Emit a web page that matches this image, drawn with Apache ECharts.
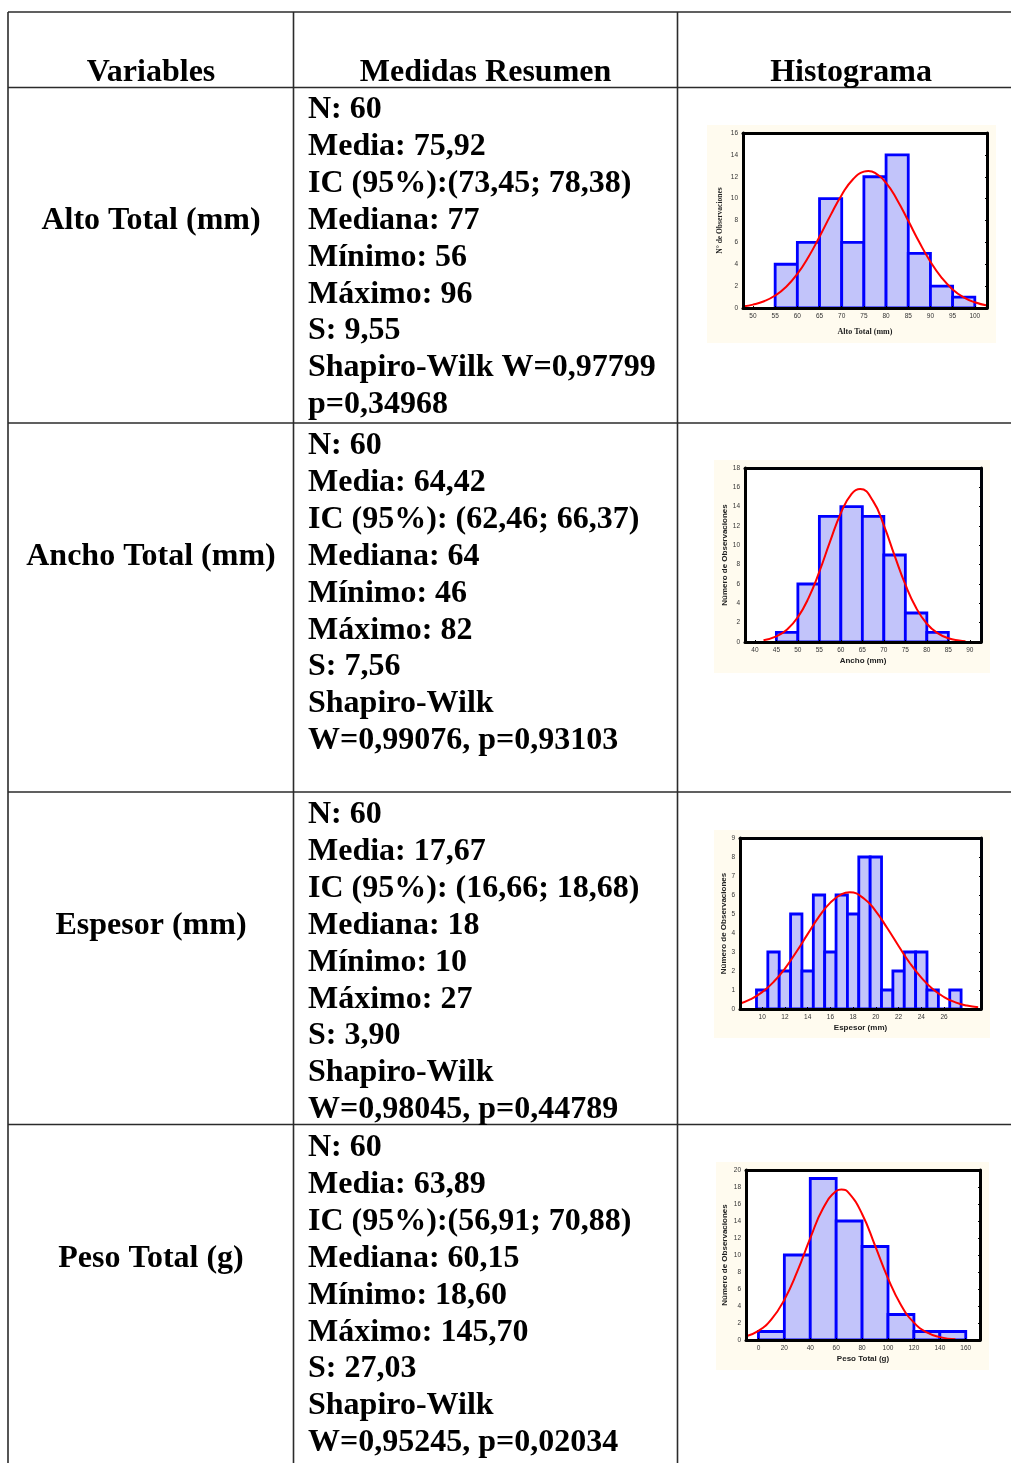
<!DOCTYPE html>
<html>
<head>
<meta charset="utf-8">
<script src="https://cdn.jsdelivr.net/npm/echarts@6/dist/echarts.min.js"></script>
<style>
  html, body { margin: 0; padding: 0; background: #fff; }
  #main { width: 1011px; height: 1463px; }
</style>
</head>
<body>
<div id="main"></div>
<script>
// textos de la tabla
var headers = ['Variables', 'Medidas Resumen', 'Histograma'];
var variables = ['Alto Total (mm)', 'Ancho Total (mm)', 'Espesor (mm)', 'Peso Total (g)'];
var resumenAlto = ['N: 60', 'Media: 75,92', 'IC (95%):(73,45; 78,38)', 'Mediana: 77', 'Mínimo: 56', 'Máximo: 96', 'S: 9,55', 'Shapiro-Wilk W=0,97799', 'p=0,34968'];
var resumenAncho = ['N: 60', 'Media: 64,42', 'IC (95%): (62,46; 66,37)', 'Mediana: 64', 'Mínimo: 46', 'Máximo: 82', 'S: 7,56', 'Shapiro-Wilk', 'W=0,99076, p=0,93103'];
var resumenEspesor = ['N: 60', 'Media: 17,67', 'IC (95%): (16,66; 18,68)', 'Mediana: 18', 'Mínimo: 10', 'Máximo: 27', 'S: 3,90', 'Shapiro-Wilk', 'W=0,98045, p=0,44789'];
var resumenPeso = ['N: 60', 'Media: 63,89', 'IC (95%):(56,91; 70,88)', 'Mediana: 60,15', 'Mínimo: 18,60', 'Máximo: 145,70', 'S: 27,03', 'Shapiro-Wilk', 'W=0,95245, p=0,02034'];

// histogramas: inicio de cada clase y frecuencias
var altoStart = [55, 60, 65, 70, 75, 80, 85, 90, 95];
var altoCount = [4, 6, 10, 6, 12, 14, 5, 2, 1];
var altoTicks = [50, 55, 60, 65, 70, 75, 80, 85, 90, 95, 100];
var altoCurveX = [48, 50, 52.5, 55, 57.5, 60, 62.5, 65, 67.5, 70, 72.5, 75, 76, 77.5, 80, 82.5, 85, 87.5, 90, 92.5, 95, 97.5, 100, 102.75];
var altoCurveY = [0.17, 0.31, 0.62, 1.14, 1.95, 3.12, 4.67, 6.52, 8.49, 10.34, 11.75, 12.47, 12.53, 12.36, 11.44, 9.88, 7.97, 6.01, 4.23, 2.78, 1.70, 0.97, 0.52, 0.22];

var anchoStart = [45, 50, 55, 60, 65, 70, 75, 80];
var anchoCount = [1, 6, 13, 14, 13, 9, 3, 1];
var anchoTicks = [40, 45, 50, 55, 60, 65, 70, 75, 80, 85, 90];
var anchoCurveX = [42, 45, 47.5, 50, 52.5, 55, 57.5, 60, 62.5, 64.5, 67.5, 70, 72.5, 75, 77.5, 80, 82.5, 85, 87.5, 89];
var anchoCurveY = [0.19, 0.58, 1.29, 2.57, 4.57, 7.28, 10.41, 13.34, 15.33, 15.83, 14.57, 12.06, 8.94, 5.95, 3.54, 1.89, 0.91, 0.39, 0.15, 0.08];

var espesorStart = [9.5, 10.5, 11.5, 12.5, 13.5, 14.5, 15.5, 16.5, 17.5, 18.5, 19.5, 20.5, 21.5, 22.5, 23.5, 24.5, 25.5, 26.5];
var espesorCount = [1, 3, 2, 5, 2, 6, 3, 6, 5, 8, 8, 1, 2, 3, 3, 1, 0, 1];
var espesorTicks = [10, 12, 14, 16, 18, 20, 22, 24, 26];
var espesorCurveX = [8, 9, 10, 11, 12, 13, 14, 15, 16, 17, 17.7, 19, 20, 21, 22, 23, 24, 25, 26, 27, 28, 29];
var espesorCurveY = [0.28, 0.52, 0.89, 1.42, 2.13, 3.00, 3.94, 4.86, 5.60, 6.05, 6.14, 5.79, 5.14, 4.26, 3.32, 2.41, 1.65, 1.05, 0.63, 0.35, 0.18, 0.09];

var pesoStart = [0, 20, 40, 60, 80, 100, 120, 140];
var pesoCount = [1, 10, 19, 14, 11, 3, 1, 1];
var pesoTicks = [0, 20, 40, 60, 80, 100, 120, 140, 160];
var pesoCurveX = [-10, 0, 10, 20, 30, 40, 50, 60, 64, 70, 80, 90, 100, 110, 120, 130, 140, 152];
var pesoCurveY = [0.42, 1.08, 2.43, 4.74, 8.07, 11.98, 15.52, 17.53, 17.71, 17.26, 14.83, 11.11, 7.26, 4.13, 2.05, 0.89, 0.34, 0.08];

var myChart = echarts.init(document.getElementById('main'), null, { renderer: 'canvas' });

var serif = '"Liberation Serif", "Times New Roman", serif';
var sans = '"Liberation Sans", Arial, sans-serif';
var cream = '#FFFBEF';

var panels = [
  { start: altoStart, count: altoCount, width: 5, ticks: altoTicks, cx: altoCurveX, cy: altoCurveY,
    xMin: 47.75, xMax: 102.75, yMax: 16, yStep: 2, xName: 'Alto Total (mm)', yName: 'N° de Observaciones',
    nameFont: serif, nameSize: 8, grid: [743, 133, 244, 175], bg: [707, 125, 289, 218], gaps: [20, 19] },
  { start: anchoStart, count: anchoCount, width: 5, ticks: anchoTicks, cx: anchoCurveX, cy: anchoCurveY,
    xMin: 37.7, xMax: 92.6, yMax: 18, yStep: 2, xName: 'Ancho (mm)', yName: 'Número de Observaciones',
    nameFont: sans, nameSize: 8, grid: [745, 468, 236, 174], bg: [714, 460, 276, 213], gaps: [15, 16] },
  { start: espesorStart, count: espesorCount, width: 1, ticks: espesorTicks, cx: espesorCurveX, cy: espesorCurveY,
    xMin: 8.05, xMax: 29.25, yMax: 9, yStep: 1, xName: 'Espesor (mm)', yName: 'Número de Observaciones',
    nameFont: sans, nameSize: 8, grid: [740, 838, 241, 171], bg: [714, 830, 276, 208], gaps: [15, 11] },
  { start: pesoStart, count: pesoCount, width: 20, ticks: pesoTicks, cx: pesoCurveX, cy: pesoCurveY,
    xMin: -9.6, xMax: 171, yMax: 20, yStep: 2, xName: 'Peso Total (g)', yName: 'Número de Observaciones',
    nameFont: sans, nameSize: 8, grid: [746, 1170, 234, 170], bg: [716, 1162, 273, 208], gaps: [15, 17] }
];

var renderBar = function(params, api) {
  var a = api.coord([api.value(0), api.value(2)]);
  var b = api.coord([api.value(1), 0]);
  return {
    type: 'rect',
    shape: { x: a[0], y: a[1], width: b[0] - a[0], height: b[1] - a[1] },
    style: { fill: '#C2C4FA', stroke: '#0000FF', lineWidth: 2.8 }
  };
};

var grids = [], xAxes = [], yAxes = [], series = [], graphics = [];

panels.forEach(function(p, i) {
  grids.push({ left: p.grid[0], top: p.grid[1], width: p.grid[2], height: p.grid[3],
    show: true, backgroundColor: '#fff', borderWidth: 0 });

  var line = { show: true, onZero: false, lineStyle: { color: '#000', width: 3 } };
  var xBase = { type: 'value', gridIndex: i, min: p.xMin, max: p.xMax, z: 5,
    splitLine: { show: false }, axisLine: line,
    axisTick: { show: true, inside: true, length: 2, customValues: p.ticks, lineStyle: { color: '#000', width: 1 } } };
  var yBase = { type: 'value', gridIndex: i, min: 0, max: p.yMax, interval: p.yStep, z: 5,
    splitLine: { show: false }, axisLine: line,
    axisTick: { show: true, inside: true, length: 2, lineStyle: { color: '#000', width: 1 } } };

  xAxes.push(Object.assign({}, xBase, {
    position: 'bottom',
    axisLabel: { customValues: p.ticks, fontSize: 6.5, color: '#333', margin: 5, fontFamily: sans },
    name: p.xName, nameLocation: 'middle', nameGap: p.gaps[0],
    nameTextStyle: { fontFamily: p.nameFont, fontWeight: 'bold', fontSize: p.nameSize, color: '#222' }
  }));
  xAxes.push(Object.assign({}, xBase, { position: 'top', axisLabel: { show: false } }));

  yAxes.push(Object.assign({}, yBase, {
    position: 'left',
    axisLabel: { fontSize: 6.5, color: '#333', margin: 5, fontFamily: sans },
    name: p.yName, nameLocation: 'middle', nameGap: p.gaps[1], nameRotate: 90,
    nameTextStyle: { fontFamily: p.nameFont, fontWeight: 'bold', fontSize: p.nameSize - (i === 0 ? 0.5 : 0), color: '#222' }
  }));
  yAxes.push(Object.assign({}, yBase, { position: 'right', axisLabel: { show: false } }));

  series.push({
    type: 'custom', xAxisIndex: 2 * i, yAxisIndex: 2 * i, renderItem: renderBar, clip: true, z: 2,
    encode: { x: [0, 1], y: 2 },
    data: p.start.map(function(s, k) { return [s, s + p.width, p.count[k]]; })
  });
  series.push({
    type: 'line', xAxisIndex: 2 * i, yAxisIndex: 2 * i, smooth: true, showSymbol: false, clip: true, z: 3,
    lineStyle: { color: '#FF0000', width: 2 },
    data: p.cx.map(function(x, k) { return [x, p.cy[k]]; })
  });

  // fondo crema del grafico
  graphics.push({ type: 'rect', z: -10, silent: true,
    shape: { x: p.bg[0], y: p.bg[1], width: p.bg[2], height: p.bg[3] },
    style: { fill: cream } });
});

// lineas de la tabla
var colX = [8, 293.5, 677.5];
var rowY = [12, 87.5, 423, 792, 1124.5];
var lineStyle = { stroke: '#2b2b2b', lineWidth: 1.6 };
rowY.forEach(function(y) {
  graphics.push({ type: 'line', shape: { x1: 8, y1: y, x2: 1011, y2: y }, style: lineStyle });
});
colX.forEach(function(x) {
  graphics.push({ type: 'line', shape: { x1: x, y1: 12, x2: x, y2: 1463 }, style: lineStyle });
});

var tableFont = 'bold 32px ' + serif;
var text = function(str, x, y, align) {
  graphics.push({ type: 'text', x: x, y: y,
    style: { text: str, font: tableFont, fill: '#000', align: align, verticalAlign: 'middle' } });
};

text(headers[0], 151, 73, 'center');
text(headers[1], 485.5, 73, 'center');
text(headers[2], 851, 73, 'center');

var resumenes = [resumenAlto, resumenAncho, resumenEspesor, resumenPeso];
var rowStart = [110, 446, 815, 1148];
var lineGap = 36.85;
resumenes.forEach(function(lines, r) {
  lines.forEach(function(s, k) {
    text(s, 308, rowStart[r] + k * lineGap, 'left');
  });
  text(variables[r], 151, rowStart[r] + 3 * lineGap, 'center');
});

var option = {
  backgroundColor: '#fff',
  animation: false,
  grid: grids,
  xAxis: xAxes,
  yAxis: yAxes,
  series: series,
  graphic: graphics
};

myChart.setOption(option);
</script>
</body>
</html>
